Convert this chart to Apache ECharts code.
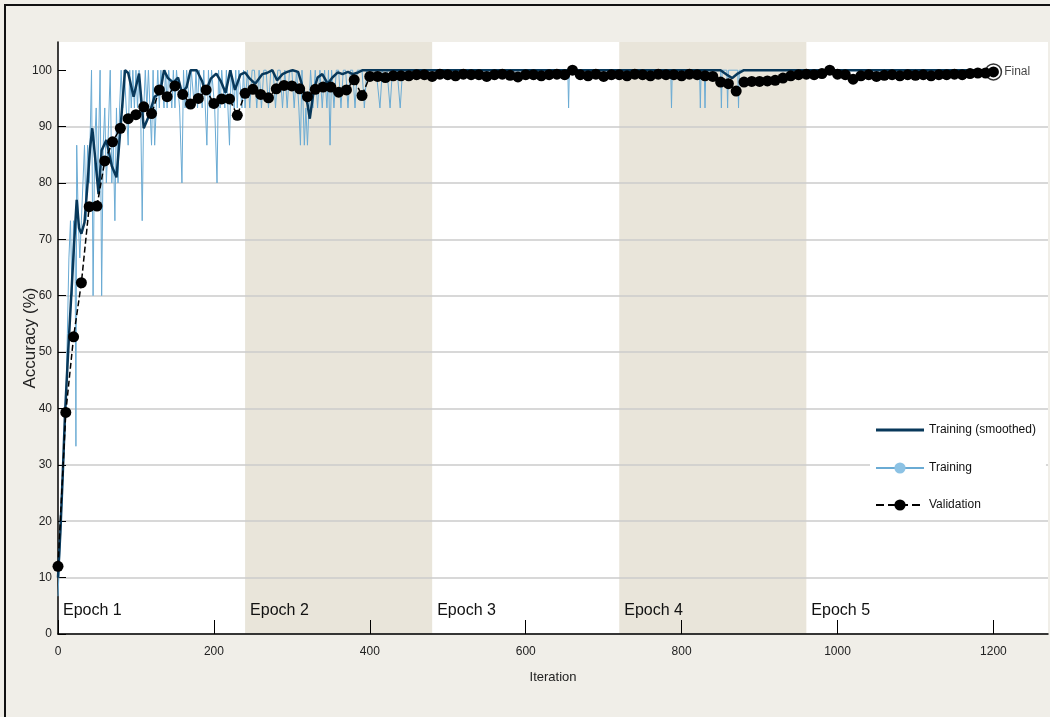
<!DOCTYPE html>
<html>
<head>
<meta charset="utf-8">
<title>Training progress</title>
<script src="https://cdn.jsdelivr.net/npm/echarts@6/dist/echarts.min.js"></script>
<style>
  html, body { margin: 0; padding: 0; background: #f0eee8; }
  #chart { width: 1050px; height: 717px; }
</style>
</head>
<body>
<div id="chart"></div>
<script>
// tick labels
const xTicks = [0, 200, 400, 600, 800, 1000, 1200];
const yTicks = [0, 10, 20, 30, 40, 50, 60, 70, 80, 90, 100];

// epochs (iteration ranges)
const epochNames = ["Epoch 1", "Epoch 2", "Epoch 3", "Epoch 4", "Epoch 5"];
const epochStart = [0, 240, 480, 720, 960];
const epochEnd = [240, 480, 720, 960, 1200];

// mini-batch training accuracy, [iteration, %]
const trainRaw = [
  [0,6.7],[2,13.3],[4,20],[6,26.7],[8,33.3],[10,40],[12,53.3],[14,66.7],[16,73.3],[18,60],
  [20,73.3],[22,66.7],[23,33.3],[24,86.7],[26,73.3],[28,66.7],[30,73.3],[32,80],[34,86.7],[36,73.3],
  [38,86.7],[40,80],[42,93.3],[43,100],[45,60],[47,86.7],[49,93.3],[51,80],[54,100],[56,60],
  [58,86.7],[60,93.3],[62,80],[64,86.7],[67,100],[69,80],[71,86.7],[73,73.3],[75,93.3],[77,80],
  [79,93.3],[81,100],[83,93.3],[85,100],[87,100],[90,86.7],[92,100],[94,93.3],[96,100],[98,93.3],
  [100,100],[102,93.3],[104,100],[106,93.3],[108,73.3],[110,93.3],[112,100],[114,93.3],[116,100],[118,93.3],
  [120,86.7],[122,100],[124,86.7],[126,93.3],[128,100],[130,93.3],[132,100],[134,100],[136,93.3],[138,100],
  [140,93.3],[142,100],[144,100],[146,93.3],[148,100],[150,93.3],[152,100],[154,100],[156,93.3],[159,80],
  [161,100],[163,93.3],[165,100],[167,100],[169,93.3],[171,100],[173,100],[175,93.3],[177,100],[179,93.3],
  [181,100],[183,100],[185,93.3],[187,100],[189,93.3],[191,86.7],[193,100],[195,93.3],[197,100],[199,100],
  [201,93.3],[204,80],[206,100],[208,93.3],[210,100],[212,100],[214,93.3],[216,100],[218,93.3],[220,86.7],
  [222,100],[224,100],[226,93.3],[228,100],[230,93.3],[232,100],[234,100],[236,93.3],[238,100],[240,93.3],
  [243,100],[246,93.3],[249,100],[252,100],[255,93.3],[258,100],[261,93.3],[264,100],[267,100],[270,93.3],
  [273,100],[276,100],[279,93.3],[282,100],[285,100],[288,93.3],[291,100],[294,93.3],[297,100],[300,100],
  [303,93.3],[306,100],[309,93.3],[311,86.7],[313,100],[316,86.7],[318,93.3],[320,86.7],[322,86.7],[324,100],
  [327,93.3],[330,100],[333,93.3],[336,100],[339,93.3],[342,100],[345,93.3],[347,100],[349,86.7],[351,100],
  [354,93.3],[357,100],[360,100],[363,93.3],[366,100],[369,100],[372,93.3],[375,100],[378,100],[381,93.3],
  [384,100],[387,100],[390,100],[393,93.3],[396,100],[400,100],[404,100],[408,100],[413,93.3],[416,100],
  [422,100],[426,93.3],[429,100],[435,100],[439,93.3],[442,100],[480,100],[654,100],[655,93.3],[656,100],
  [786,100],[787,93.3],[788,100],[823,100],[824,93.3],[825,100],[829,100],[830,93.3],[831,100],[850,100],
  [851,93.3],[852,100],[858,100],[859,93.3],[860,100],[872,100],[873,93.3],[874,100],[1200,100]
];

// smoothed training accuracy, [iteration, %]
const trainSmooth = [
  [0,10],[3,18],[6,28],[9,39],[13,50],[17,60],[21,70],[24,77],[27,72],[30,71],
  [34,73],[38,80],[41,86],[44,89.7],[48,84],[52,78],[56,85.8],[62,87.6],[69,83],[75,81],
  [80,89.4],[86,100],[90,99.5],[97,95.3],[104,99.4],[110,89.7],[116,91.7],[124,95.3],[131,96],[136,100],
  [141,98.6],[148,97.8],[154,98.7],[159,96],[165,97],[170,100],[178,100],[185,98],[189,96],[196,98.5],
  [203,99.4],[209,98],[215,96],[221,100],[227,96.5],[234,99.2],[240,99.6],[246,98.5],[253,97.6],[262,99.3],
  [268,99.5],[275,100],[281,98.2],[288,99.3],[294,99.7],[301,100],[308,99.7],[314,97],[320,94],[323,91.4],
  [328,96.4],[333,98.7],[339,99.3],[346,97.6],[352,98.7],[359,99.6],[365,99.3],[372,99.7],[378,99.3],[385,99.6],
  [391,100],[400,100],[850,100],[858,99.2],[865,98.6],[872,99.4],[880,100],[1200,100]
];

// validation accuracy, every 10 iterations
const valIter = [
  0,10,20,30,40,50,60,70,80,90,100,110,120,130,140,150,160,170,180,190,
  200,210,220,230,240,250,260,270,280,290,300,310,320,330,340,350,360,370,380,390,
  400,410,420,430,440,450,460,470,480,490,500,510,520,530,540,550,560,570,580,590,
  600,610,620,630,640,650,660,670,680,690,700,710,720,730,740,750,760,770,780,790,
  800,810,820,830,840,850,860,870,880,890,900,910,920,930,940,950,960,970,980,990,
  1000,1010,1020,1030,1040,1050,1060,1070,1080,1090,1100,1110,1120,1130,1140,1150,1160,1170,1180,1190,
  1200
];
const valAcc = [
  12,39.3,52.7,62.3,75.8,75.9,83.9,87.3,89.7,91.4,92.1,93.5,92.3,96.5,95.3,97.2,95.7,94.0,95.0,96.5,
  94.1,94.9,94.9,92.0,95.9,96.6,95.7,95.1,96.7,97.3,97.2,96.7,95.3,96.6,97.0,97.0,96.1,96.5,98.3,95.5,
  98.9,98.9,98.7,99.0,99.0,99.0,99.2,99.2,98.9,99.3,99.2,99.0,99.3,99.2,99.2,98.9,99.2,99.3,99.1,98.8,
  99.2,99.2,99.0,99.2,99.3,99.2,100.0,99.2,99.0,99.3,98.9,99.2,99.2,99.0,99.3,99.2,99.0,99.3,99.2,99.2,
  99.0,99.3,99.2,99.0,98.9,97.9,97.6,96.3,97.9,98.0,98.0,98.1,98.2,98.6,99.0,99.2,99.3,99.2,99.4,100.0,
  99.3,99.2,98.4,99.0,99.2,98.9,99.1,99.2,99.0,99.2,99.1,99.2,99.0,99.2,99.2,99.3,99.2,99.4,99.5,99.5,
  99.7
];

const finalPoint = [1200, 99.7];

const FONT = "'Liberation Sans Narrow', 'Liberation Sans', Arial, sans-serif";

// plain thick line used as the legend icon of the smoothed series
const LINE_ICON = "path://M0,0H0.1V0.1H0Z M0,5.5H48V8.5H0Z M47.9,13.9H48V14H47.9Z";

const epochAreas = epochNames.map((name, i) => [
  {
    name: name,
    xAxis: epochStart[i],
    itemStyle: { color: i % 2 === 1 ? "#e9e5da" : "rgba(0,0,0,0)" }
  },
  { xAxis: epochEnd[i] }
]);

const chart = echarts.init(document.getElementById("chart"));
const option = {
  animation: false,
  backgroundColor: "#f0eee8",
  textStyle: { fontFamily: FONT },
  graphic: [
    {
      type: "rect",
      silent: true,
      z: 100,
      shape: { x: 5, y: 5, width: 1060, height: 730 },
      style: { fill: "none", stroke: "#111", lineWidth: 2 }
    }
  ],
  grid: {
    left: 58,
    right: 2,
    top: 42,
    bottom: 83,
    show: true,
    backgroundColor: "#ffffff",
    borderWidth: 0
  },
  legend: {
    data: [
      { name: "Training (smoothed)", icon: LINE_ICON },
      { name: "Training", itemStyle: { borderWidth: 0 } },
      { name: "Validation" }
    ],
    orient: "vertical",
    left: 870,
    top: 412,
    backgroundColor: "#ffffff",
    padding: [11, 10, 7, 5],
    itemWidth: 48,
    itemHeight: 14,
    itemGap: 25,
    textStyle: { fontFamily: FONT, fontSize: 12, color: "#111" }
  },
  xAxis: {
    type: "value",
    min: 0,
    max: 1270,
    z: 1.5,
    name: "Iteration",
    nameLocation: "middle",
    nameGap: 37,
    nameTextStyle: { fontFamily: FONT, fontSize: 13, color: "#222" },
    axisLine: { lineStyle: { color: "#000", width: 1.5 } },
    axisTick: { inside: true, length: 14, customValues: xTicks, lineStyle: { color: "#000" } },
    axisLabel: {
      customValues: xTicks,
      margin: 12,
      fontFamily: FONT,
      fontSize: 12,
      color: "#222",
      formatter: v => String(v)
    },
    splitLine: { show: false }
  },
  yAxis: {
    type: "value",
    min: 0,
    max: 105,
    interval: 10,
    z: 1.5,
    name: "Accuracy (%)",
    nameLocation: "middle",
    nameGap: 19,
    nameMoveOverlap: false,
    nameTextStyle: { fontFamily: "'Liberation Sans', sans-serif", fontSize: 17, color: "#222" },
    axisLine: { show: true, lineStyle: { color: "#000", width: 1.5 } },
    axisTick: { inside: true, length: 8, customValues: yTicks, lineStyle: { color: "#000" } },
    axisLabel: {
      customValues: yTicks,
      margin: 6,
      fontFamily: FONT,
      fontSize: 12,
      color: "#222",
      formatter: v => String(v)
    },
    splitLine: { show: true, showMaxLine: false, lineStyle: { color: "#cbcbcb", width: 1.5 } }
  },
  series: [
    {
      name: "epochs",
      type: "line",
      data: [],
      silent: true,
      markArea: {
        silent: true,
        label: {
          show: true,
          position: "insideBottomLeft",
          distance: 5,
          offset: [0, -10],
          fontFamily: FONT,
          fontSize: 16,
          color: "#111"
        },
        data: epochAreas
      }
    },
    {
      name: "Training",
      type: "line",
      data: trainRaw,
      symbol: "circle",
      symbolSize: 8,
      showSymbol: false,
      lineStyle: { color: "#6aabd4", width: 1 },
      itemStyle: { color: "#8cc2e4" },
      z: 2
    },
    {
      name: "Training (smoothed)",
      type: "line",
      data: trainSmooth,
      symbol: "none",
      lineStyle: { color: "#08385a", width: 2.5 },
      itemStyle: { color: "#08385a" },
      z: 3
    },
    {
      name: "Validation",
      type: "line",
      data: valIter.map((it, i) => [it, valAcc[i]]),
      symbol: "circle",
      symbolSize: 11,
      showSymbol: true,
      lineStyle: { color: "#000", width: 1.5, type: "dashed" },
      itemStyle: { color: "#000" },
      z: 4
    },
    {
      name: "Final",
      type: "scatter",
      data: [finalPoint],
      symbol: "circle",
      symbolSize: 16,
      itemStyle: { color: "rgba(0,0,0,0)", borderColor: "#000", borderWidth: 1.5 },
      label: {
        show: true,
        position: "right",
        distance: 2,
        formatter: "Final",
        fontFamily: FONT,
        fontSize: 12,
        color: "#111"
      },
      z: 5
    }
  ]
};
chart.setOption(option);
window.addEventListener("resize", function() {
  chart.resize();
});
</script>
</body>
</html>
